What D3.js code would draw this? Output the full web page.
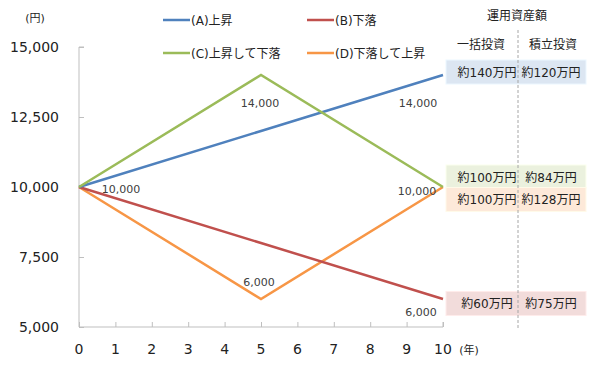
<!DOCTYPE html>
<html>
<head>
<meta charset="utf-8">
<script src="https://cdn.jsdelivr.net/npm/d3@7"></script>
<style>
  body { margin: 0; background: #fff; }
  svg { font-family: "DejaVu Sans", "Noto Sans CJK JP", sans-serif; }
</style>
</head>
<body>
<svg id="chart" width="600" height="370"></svg>
<script>
// data
var years = [0, 5, 10]
var seriesNames = ["(A)上昇", "(B)下落", "(C)上昇して下落", "(D)下落して上昇"]
var seriesColors = ["#4f81bd", "#c0504d", "#9bbb59", "#f79646"]
var valuesA = [10000, 12000, 14000]
var valuesB = [10000, 8000, 6000]
var valuesC = [10000, 14000, 10000]
var valuesD = [10000, 6000, 10000]
var yTicks = [5000, 7500, 10000, 12500, 15000]
var xTicks = [0, 1, 2, 3, 4, 5, 6, 7, 8, 9, 10]

// value labels: [year, value, dx, dy]
var pointLabels = [
    [0, 10000, 42, 6],
    [5, 14000, -1, 32],
    [10, 14000, -25, 32],
    [10, 10000, -26, 8],
    [5, 6000, -2, -13],
    [10, 6000, -22, 17]
]

// right-hand table
var tableTitle = "運用資産額"
var tableHeads = ["一括投資", "積立投資"]
var tableRows = [
    { value: 14000, lump: "約140万円", monthly: "約120万円", fill: "#dce6f2" },
    { value: 10000, lump: "約100万円", monthly: "約84万円", fill: "#ebf1de" },
    { value: 10000, lump: "約100万円", monthly: "約128万円", fill: "#fde9d9" },
    { value: 6000, lump: "約60万円", monthly: "約75万円", fill: "#f2dcdb" }
]

var svg = d3.select("#chart")
var xScale = d3.scaleLinear().domain([0, 10]).range([79, 443])
var yScale = d3.scaleLinear().domain([5000, 15000]).range([327, 47])

var allSeries = [valuesA, valuesB, valuesC, valuesD]

// axes
var axisColor = "#bfbfbf"
var yAxis = svg.append("g")
    .attr("transform", "translate(" + xScale(0) + ",0)")
    .call(d3.axisRight(yScale).tickValues(yTicks).tickSize(5).tickFormat(""))
yAxis.select(".domain").attr("stroke", axisColor).attr("d", "M5," + yScale(15000) + "H0V" + yScale(5000))
yAxis.selectAll("line").attr("stroke", axisColor)

var xAxis = svg.append("g")
    .attr("transform", "translate(0," + yScale(5000) + ")")
    .call(d3.axisTop(xScale).tickValues(xTicks).tickSize(5).tickFormat(""))
xAxis.select(".domain").attr("stroke", axisColor).attr("d", "M" + xScale(0) + ",0H" + xScale(10) + "V-5")
xAxis.selectAll("line").attr("stroke", axisColor)

svg.selectAll(".ylab")
    .data(yTicks)
    .enter()
    .append("text")
    .attr("x", 59)
    .attr("y", d => yScale(d) + 5)
    .attr("text-anchor", "end")
    .style("font-size", "14px")
    .style("fill", "#222")
    .text(d => d3.format(",")(d))

svg.selectAll(".xlab")
    .data(xTicks)
    .enter()
    .append("text")
    .attr("x", d => xScale(d))
    .attr("y", 354)
    .attr("text-anchor", "middle")
    .style("font-size", "14px")
    .style("fill", "#222")
    .text(d => d)

svg.append("text").attr("x", 35).attr("y", 22).attr("text-anchor", "middle")
    .style("font-size", "11px").style("fill", "#222").text("(円)")
svg.append("text").attr("x", 469).attr("y", 354).attr("text-anchor", "middle")
    .style("font-size", "11px").style("fill", "#222").text("(年)")

// table boxes
tableRows.forEach((r, i) => {
    var yc = yScale(r.value) + (i == 1 ? -10 : i == 2 ? 12.5 : 0)
    // top row sits above its point, bottom row a little below
    if (i == 0) yc = 72
    if (i == 3) yc = 303.5
    svg.append("rect")
        .attr("x", 446).attr("y", yc - 12)
        .attr("width", 140).attr("height", 24)
        .attr("fill", r.fill)
        .attr("stroke", d3.color(r.fill).brighter(0.2))
    svg.append("text").attr("x", 487).attr("y", yc + 4.5).attr("text-anchor", "middle")
        .style("font-size", "12px").style("fill", "#222").text(r.lump)
    svg.append("text").attr("x", 551).attr("y", yc + 4.5).attr("text-anchor", "middle")
        .style("font-size", "12px").style("fill", "#222").text(r.monthly)
})

svg.append("line")
    .attr("x1", 518).attr("x2", 518).attr("y1", 30).attr("y2", 330)
    .attr("stroke", "#a6a6a6").attr("stroke-dasharray", "3,2")

svg.append("text").attr("x", 517).attr("y", 20).attr("text-anchor", "middle")
    .style("font-size", "12px").style("fill", "#222").text(tableTitle)
svg.append("text").attr("x", 481).attr("y", 49).attr("text-anchor", "middle")
    .style("font-size", "12px").style("fill", "#222").text(tableHeads[0])
svg.append("text").attr("x", 553).attr("y", 49).attr("text-anchor", "middle")
    .style("font-size", "12px").style("fill", "#222").text(tableHeads[1])

// lines
var line = d3.line()
    .x((d, i) => xScale(years[i]))
    .y(d => yScale(d))
var order = [3, 1, 0, 2]
order.forEach(k => {
    svg.append("path")
        .datum(allSeries[k])
        .attr("fill", "none")
        .attr("stroke", seriesColors[k])
        .attr("stroke-width", 2.5)
        .attr("stroke-linejoin", "miter")
        .attr("d", line)
})

svg.selectAll(".plab")
    .data(pointLabels)
    .enter()
    .append("text")
    .attr("x", d => xScale(d[0]) + d[2])
    .attr("y", d => yScale(d[1]) + d[3])
    .attr("text-anchor", "middle")
    .style("font-size", "11px")
    .style("fill", "#404040")
    .text(d => d3.format(",")(d[1]))

// legend
var legendPos = [[163, 20], [307, 20], [163, 53], [307, 53]]
seriesNames.forEach((name, i) => {
    var p = legendPos[i]
    svg.append("line")
        .attr("x1", p[0]).attr("x2", p[0] + 27)
        .attr("y1", p[1]).attr("y2", p[1])
        .attr("stroke", seriesColors[i]).attr("stroke-width", 2.5)
    svg.append("text").attr("x", p[0] + 28).attr("y", p[1] + 4.5)
        .style("font-size", "12px").style("fill", "#222").text(name)
})
</script>
</body>
</html>
